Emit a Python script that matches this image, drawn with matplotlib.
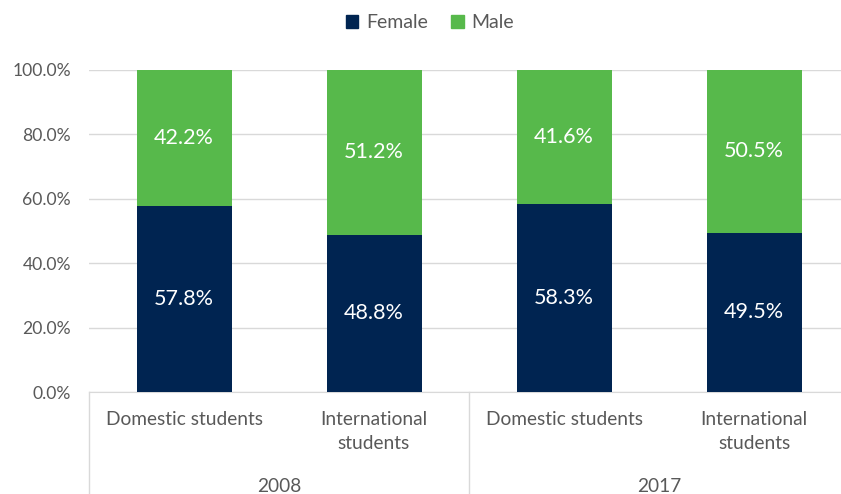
import matplotlib.pyplot as plt
import matplotlib.transforms as mtransforms
from matplotlib.patches import Patch
import numpy as np

plt.rcParams['font.family'] = ['Lato', 'DejaVu Sans']

years = ['2008', '2017']
categories = ['Domestic students', 'International\nstudents',
              'Domestic students', 'International\nstudents']
female = [57.8, 48.8, 58.3, 49.5]
male = [42.2, 51.2, 41.6, 50.5]

navy = '#002451'
green = '#57B94B'
grey_text = '#595959'
grid_col = '#D9D9D9'

W, H = 841, 494
fig = plt.figure(figsize=(W / 100, H / 100), dpi=100)
ax = fig.add_axes([89 / W, (H - 392) / H, 760 / W, 322 / H])

x = np.arange(len(categories))
ax.bar(x, female, width=0.5, color=navy, label='Female', zorder=3)
ax.bar(x, male, width=0.5, bottom=female, color=green, label='Male', zorder=3)

for i in range(len(categories)):
    ax.text(x[i], female[i] / 2, f'{female[i]:.1f}%', ha='center', va='center',
            color='white', fontsize=15.5, zorder=4)
    ax.text(x[i], female[i] + male[i] / 2, f'{male[i]:.1f}%', ha='center',
            va='center', color='white', fontsize=15.5, zorder=4)

ax.set_xlim(-0.5, len(categories) - 0.5)
ax.set_ylim(0, 100)
ax.set_yticks(np.arange(0, 101, 20))
ax.set_yticklabels([f'{v:.1f}%' for v in np.arange(0, 101, 20)])
ax.tick_params(axis='y', length=0, pad=13, labelsize=12.6, labelcolor=grey_text)
ax.set_xticks([])
ax.yaxis.grid(True, color=grid_col, linewidth=1, zorder=0)
for s in ['top', 'right', 'left']:
    ax.spines[s].set_visible(False)
ax.spines['bottom'].set_color(grid_col)

# grouped category axis
trans = mtransforms.blended_transform_factory(ax.transData, fig.transFigure)
for i, c in enumerate(categories):
    ax.text(x[i], 1 - 411 / H, c, transform=trans, ha='center', va='top',
            color=grey_text, fontsize=13.8, linespacing=1.5)
for j, yr in enumerate(years):
    ax.text(2 * j + 0.5, 1 - 478 / H, yr, transform=trans, ha='center',
            va='top', color=grey_text, fontsize=13.8)
for xs in [-0.5, 1.5, 3.5]:
    ax.plot([xs, xs], [1 - 392 / H, 0], transform=trans, color=grid_col,
            linewidth=1, clip_on=False)

handles = [Patch(color=navy, label='Female'), Patch(color=green, label='Male')]
fig.legend(handles=handles, loc='center', bbox_to_anchor=(430 / W, 1 - 23 / H),
           ncol=2, frameon=False, fontsize=14, handlelength=0.65, handleheight=0.65,
           columnspacing=1.2, handletextpad=0.4, labelcolor=grey_text)

fig.savefig('out.png', dpi=100)
